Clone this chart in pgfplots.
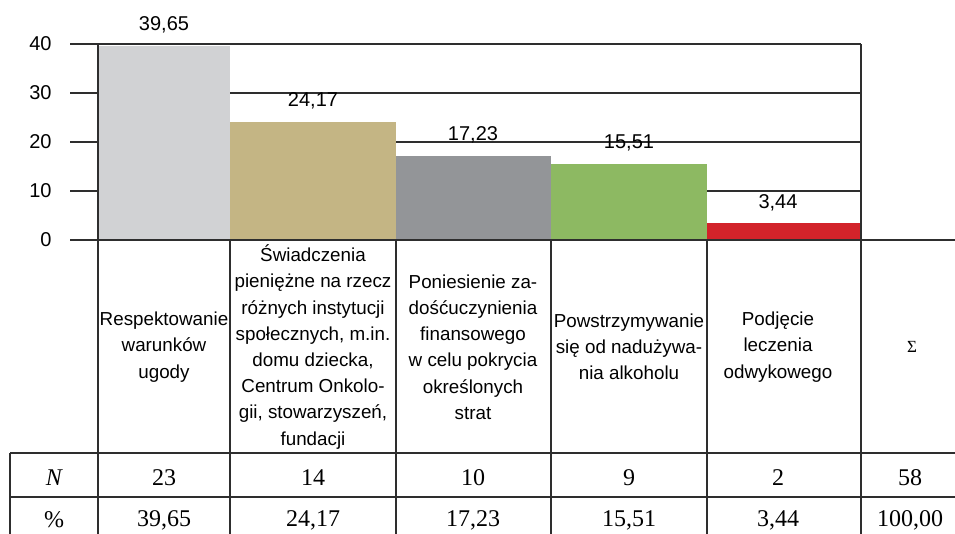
\documentclass[border=0pt]{standalone}
\usepackage{pgfplots}
\pgfplotsset{compat=1.18}
\usepackage{fontspec}
\setmainfont{Liberation Sans}
\newfontfamily\serifnum{Liberation Serif}
\definecolor{cA}{HTML}{D1D2D4}
\definecolor{cB}{HTML}{C4B584}
\definecolor{cC}{HTML}{939598}
\definecolor{cD}{HTML}{8DB962}
\definecolor{cE}{HTML}{D2232A}
\definecolor{ln}{HTML}{2E2E2E}
\begin{document}
\begin{tikzpicture}
\begin{axis}[name=ax, scale only axis, width=477.5pt, height=267pt,
  xmin=0, xmax=955, ymin=-60, ymax=48.9796, clip=false,
  axis line style={draw=none}, xtick=\empty, ytick={0,10,20,30,40},
  major tick length=0pt, /pgf/number format/assume math mode=true,
  yticklabel style={font=\fontsize{10}{12}\selectfont, anchor=east, xshift=29.3pt}]
% grid lines
\addplot[ln, line width=0.6pt] coordinates {(70,10) (861,10)};
\addplot[ln, line width=0.6pt] coordinates {(70,20) (861,20)};
\addplot[ln, line width=0.6pt] coordinates {(70,30) (861,30)};
\addplot[ln, line width=0.6pt] coordinates {(70,40) (861,40)};
% bars (x from column edges, y = percent)
\addplot[fill=cA, draw=none] coordinates {(98,0) (98,39.65) (230,39.65) (230,0)} -- cycle;
\addplot[fill=cB, draw=none] coordinates {(230,0) (230,24.17) (396,24.17) (396,0)} -- cycle;
\addplot[fill=cC, draw=none] coordinates {(396,0) (396,17.23) (551,17.23) (551,0)} -- cycle;
\addplot[fill=cD, draw=none] coordinates {(551,0) (551,15.51) (707,15.51) (707,0)} -- cycle;
\addplot[fill=cE, draw=none] coordinates {(707,0) (707,3.44) (861,3.44) (861,0)} -- cycle;
% table lines
\draw[ln, line width=0.7pt] (axis cs:98,40) -- (axis cs:98,-60);
\draw[ln, line width=0.7pt] (axis cs:861,40) -- (axis cs:861,-60);
\draw[ln, line width=0.7pt] (axis cs:230,0) -- (axis cs:230,-60);
\draw[ln, line width=0.7pt] (axis cs:396,0) -- (axis cs:396,-60);
\draw[ln, line width=0.7pt] (axis cs:551,0) -- (axis cs:551,-60);
\draw[ln, line width=0.7pt] (axis cs:707,0) -- (axis cs:707,-60);
\draw[ln, line width=0.7pt] (axis cs:10,-43.47) -- (axis cs:10,-60);
\draw[ln, line width=0.7pt] (axis cs:10,-43.47) -- (axis cs:955,-43.47);
\draw[ln, line width=0.7pt] (axis cs:10,-52.45) -- (axis cs:955,-52.45);
\draw[ln, line width=1.2pt] (axis cs:70,0) -- (axis cs:955,0);
% bar labels
\tikzset{bl/.style={anchor=base, yshift=7.5pt, font=\fontsize{10}{12}\selectfont}}
\node[bl] at (axis cs:164,39.65) {39,65};
\node[bl] at (axis cs:313,24.17) {24,17};
\node[bl] at (axis cs:473,17.23) {17,23};
\node[bl] at (axis cs:629,15.51) {15,51};
\node[bl] at (axis cs:778,3.44) {3,44};
% header cells
\tikzset{hd/.style={anchor=center, align=center, inner sep=0pt, font=\fontsize{9.4}{13.1}\selectfont}}
\node[hd] at (axis cs:164,-21.84) {Respektowanie\\warunków\\ugody};
\node[hd] at (axis cs:313,-21.84) {Świadczenia\\pieniężne na rzecz\\różnych instytucji\\społecznych, m.in.\\domu dziecka,\\Centrum Onkolo-\\gii, stowarzyszeń,\\fundacji};
\node[hd] at (axis cs:473,-21.84) {Poniesienie za-\\dośćuczynienia\\finansowego\\w celu pokrycia\\określonych\\strat};
\node[hd] at (axis cs:629,-21.84) {Powstrzymywanie\\się od nadużywa-\\nia alkoholu};
\node[hd] at (axis cs:778,-21.84) {Podjęcie\\leczenia\\odwykowego};
\node[anchor=center, inner sep=0pt, font=\serifnum\fontsize{8.5}{10}\selectfont] at (axis cs:912,-21.84) {Σ};
% rows
\tikzset{rw/.style={anchor=center, inner sep=0pt, font=\serifnum\fontsize{12}{13}\selectfont}}
\node[rw] at (axis cs:54,-48.47) {\itshape N};
\node[rw] at (axis cs:164,-48.47) {23};
\node[rw] at (axis cs:313,-48.47) {14};
\node[rw] at (axis cs:473,-48.47) {10};
\node[rw] at (axis cs:629,-48.47) {9};
\node[rw] at (axis cs:778,-48.47) {2};
\node[rw] at (axis cs:910,-48.47) {58};
\node[rw] at (axis cs:54,-57.14) {\%};
\node[rw] at (axis cs:164,-57.14) {39,65};
\node[rw] at (axis cs:313,-57.14) {24,17};
\node[rw] at (axis cs:473,-57.14) {17,23};
\node[rw] at (axis cs:629,-57.14) {15,51};
\node[rw] at (axis cs:778,-57.14) {3,44};
\node[rw] at (axis cs:910,-57.14) {100,00};
\end{axis}
\pgfresetboundingbox
\useasboundingbox (ax.south west) rectangle (ax.north east);
\end{tikzpicture}
\end{document}
